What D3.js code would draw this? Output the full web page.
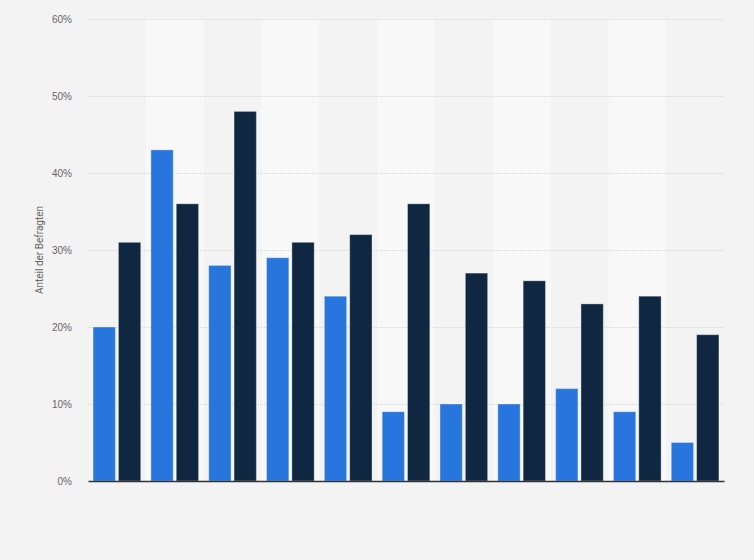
<!DOCTYPE html>
<html><head><meta charset="utf-8">
<script src="https://cdn.jsdelivr.net/npm/d3@7"></script>
<style>html,body{margin:0;padding:0;background:#f3f3f3;}svg{display:block;font-family:Roboto,"Open Sans",Arial,sans-serif;}</style>
</head><body>
<svg id="c" width="754" height="560"></svg>
<script>
const categories = ["1","2","3","4","5","6","7","8","9","10","11"];
const seriesNames = ["Serie 1","Serie 2"];
const series1 = [20,43,28,29,24,9,10,10,12,9,5];
const series2 = [31,36,48,31,32,36,27,26,23,24,19];
const yTicks = [0,10,20,30,40,50,60];
const colors = ["#2876dd","#0f2740"];

const svg = d3.select("#c");
const m = {l:88, r:30, t:19, b:79};
const W = 754, H = 560;
const x = d3.scaleBand().domain(categories).range([m.l, W - m.r]).paddingInner(0).paddingOuter(0);
const y = d3.scaleLinear().domain([0,60]).range([H - m.b, m.t]);
const x1 = d3.scaleBand().domain(seriesNames).range([0, x.bandwidth()]).paddingInner(0.12).paddingOuter(0.2);

// alternating bands
svg.append("g").selectAll("rect").data(categories).join("rect")
  .attr("x", d => x(d)).attr("y", m.t).attr("width", x.bandwidth()).attr("height", y(0) - m.t)
  .attr("fill", (d,i) => i % 2 ? "#f8f8f8" : "none");

// gridlines
const ga = svg.append("g").attr("transform", `translate(${m.l},0)`)
  .call(d3.axisLeft(y).tickValues(yTicks).tickSize(-(W - m.r - m.l)).tickFormat(d => d + "%"));
ga.select(".domain").remove();
ga.selectAll(".tick line").attr("stroke", "#d6d6d6").attr("stroke-dasharray", "1,1")
  .filter(d => d === 0).remove();
ga.selectAll(".tick text").attr("x", -16).attr("fill", "#666").attr("font-size", 10);

// bars
const data = categories.map((c,i) => ({c, vals:[series1[i], series2[i]]}));
const g = svg.append("g").selectAll("g").data(data).join("g")
  .attr("transform", d => `translate(${x(d.c)},0)`);
g.selectAll("rect").data(d => d.vals.map((v,j) => ({v, s: seriesNames[j], j}))).join("rect")
  .attr("x", d => x1(d.s)).attr("y", d => y(d.v))
  .attr("width", x1.bandwidth()).attr("height", d => y(0) - y(d.v))
  .attr("fill", d => colors[d.j])
  .attr("stroke", "rgba(255,255,255,0.35)").attr("stroke-width", 1);

// x axis line
svg.append("g").attr("transform", `translate(0,${y(0)})`)
  .call(d3.axisBottom(x).tickSize(0).tickFormat(""))
  .select(".domain").attr("stroke", "#333").attr("stroke-width", 1.5);

// y title
svg.append("text").attr("transform", `translate(43,${(m.t + y(0))/2}) rotate(-90)`)
  .attr("text-anchor", "middle").attr("fill", "#666").attr("font-size", 10)
  .text("Anteil der Befragten");
</script>
</body></html>
